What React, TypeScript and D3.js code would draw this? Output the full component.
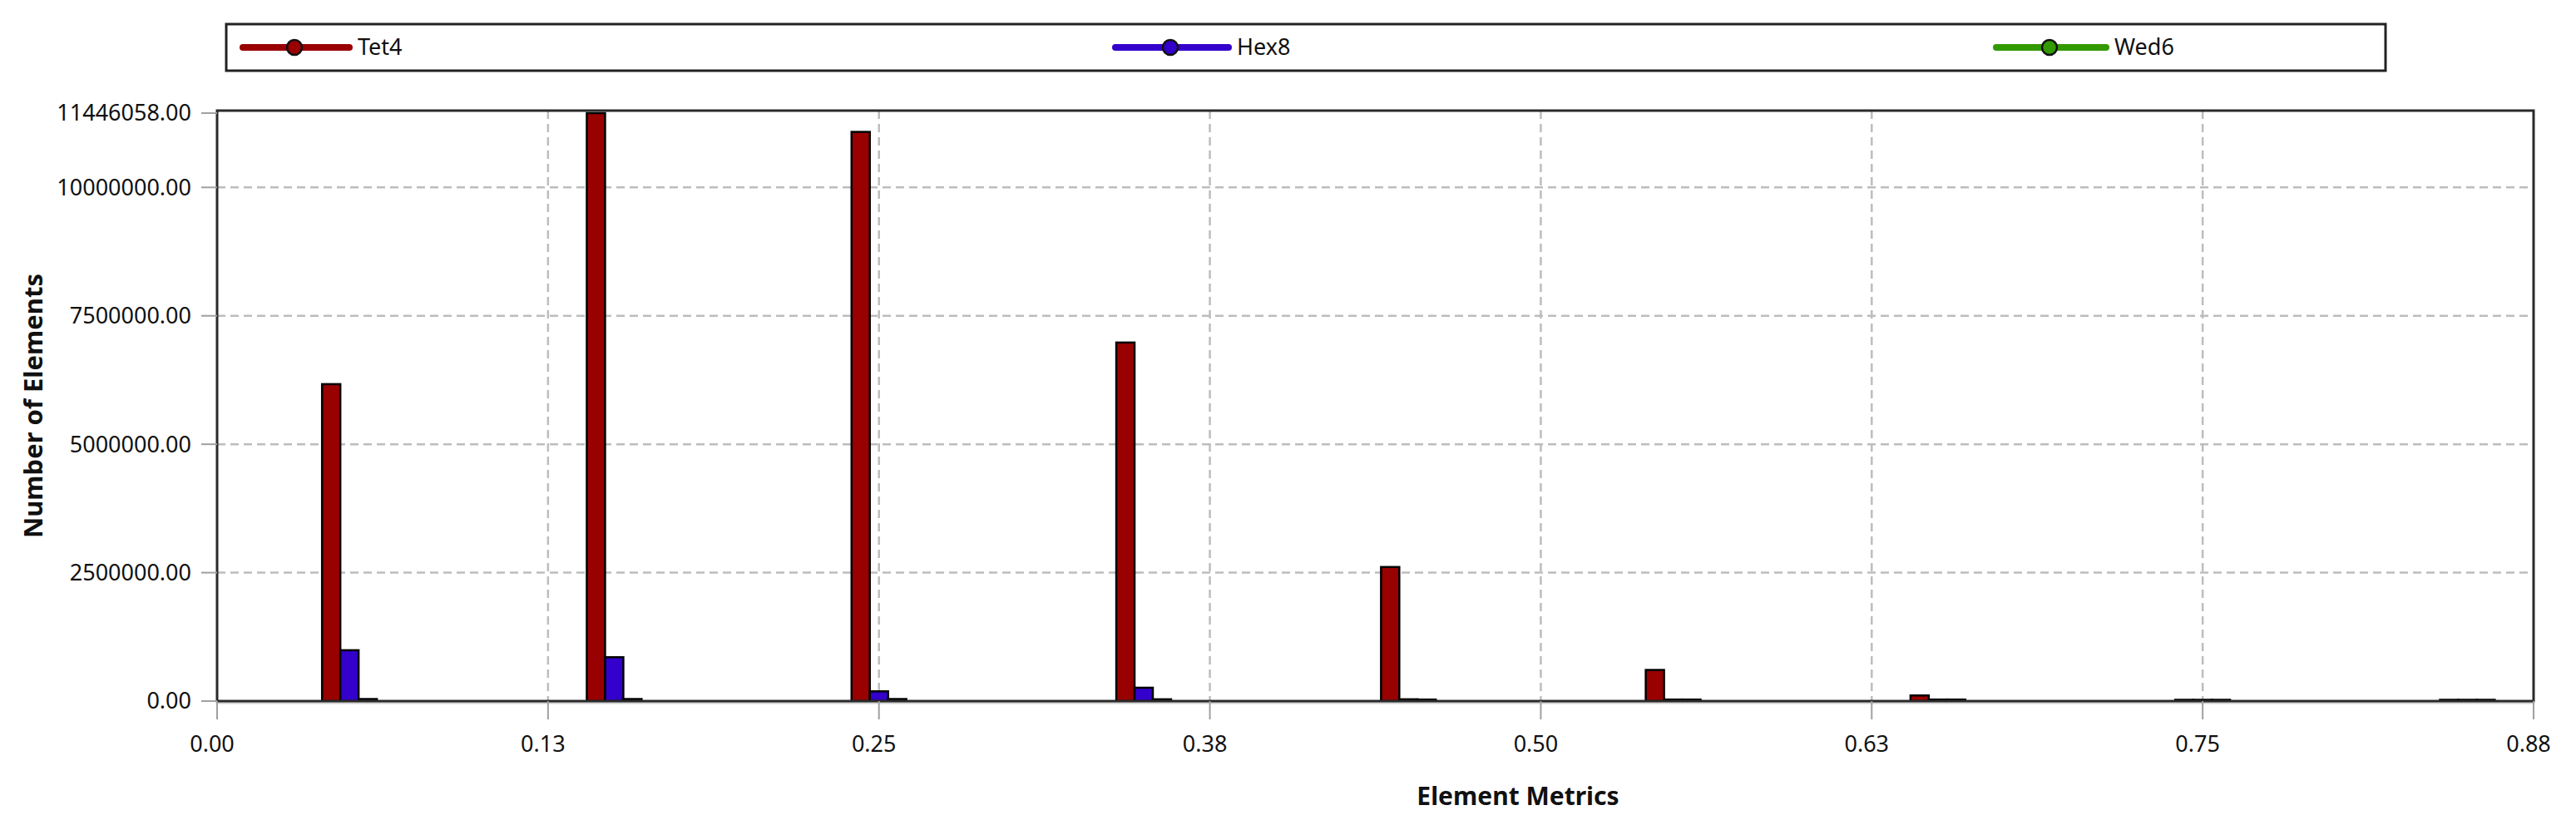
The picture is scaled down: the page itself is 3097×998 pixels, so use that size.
import React from "react";
import * as d3 from "d3";

const binCenters = [0.05, 0.15, 0.25, 0.35, 0.45, 0.55, 0.65, 0.75, 0.85];
const tet4 = [6170000, 11446058, 11080000, 6980000, 2610000, 606000, 110000, 25000, 25000];
const hex8 = [990000, 854000, 190000, 260000, 35000, 30000, 30000, 25000, 25000];
const wed6 = [40000, 40000, 40000, 35000, 30000, 30000, 30000, 25000, 25000];
const seriesNames = ["Tet4", "Hex8", "Wed6"];
const seriesColors = ["#990000", "#3300cc", "#339900"];
const xTicks = [0, 0.125, 0.25, 0.375, 0.5, 0.625, 0.75, 0.875];
const yTicks = [0, 2500000, 5000000, 7500000, 10000000, 11446058];
const yMax = 11446058;

const W = 3097, H = 998;
const L = 261, R = 3046, T = 133, B = 843;
const FONT = "'Noto Sans', 'Open Sans', sans-serif";

export default function App() {
  const x = d3.scaleLinear().domain([0, 0.875]).range([L, R]);
  const y = d3.scaleLinear().domain([0, yMax]).range([B, 136]);
  const bw = x(0.0069) - x(0);
  const series = [tet4, hex8, wed6];

  const legendItems = [
    { x0: 292, x1: 420, tx: 430 },
    { x0: 1341, x1: 1477, tx: 1487 },
    { x0: 2400, x1: 2532, tx: 2542 },
  ];

  return (
    <svg width={W} height={H} style={{ position: "absolute", left: 0, top: 0, background: "#fff" }}>
      {/* legend */}
      <rect x={272} y={29} width={2596} height={56} fill="#fff" stroke="#222" strokeWidth={3} />
      {legendItems.map((li, i) => (
        <g key={i}>
          <line x1={li.x0} x2={li.x1} y1={57} y2={57} stroke={seriesColors[i]} strokeWidth={8} strokeLinecap="round" />
          <circle cx={(li.x0 + li.x1) / 2 - 2} cy={57} r={9} fill={seriesColors[i]} stroke="#111" strokeWidth={2.5} />
          <text x={li.tx} y={57} dy="0.35em" fontFamily={FONT} fontSize={27} fill="#111">{seriesNames[i]}</text>
        </g>
      ))}

      {/* grid */}
      {yTicks.filter(v => v > 0 && v < yMax).map(v => (
        <line key={"gy" + v} x1={L} x2={R} y1={y(v)} y2={y(v)} stroke="#bdbdbd" strokeWidth={2.5} strokeDasharray="10,6" />
      ))}
      {xTicks.filter(v => v > 0 && v < 0.875).map(v => (
        <line key={"gx" + v} x1={x(v)} x2={x(v)} y1={T} y2={B} stroke="#bdbdbd" strokeWidth={2.5} strokeDasharray="10,6" />
      ))}

      {/* bars */}
      {series.map((vals, si) =>
        vals.map((v, bi) => {
          const cx = x(binCenters[bi]);
          const x0 = cx - bw * 1.5 + si * bw;
          return (
            <rect key={si + "-" + bi} x={x0} y={y(v)} width={bw} height={Math.max(0, B - y(v))}
              fill={seriesColors[si]} stroke="#000" strokeWidth={2.5} />
          );
        })
      )}

      {/* frame */}
      <line x1={L} x2={R} y1={B + 2} y2={B + 2} stroke="#d0d0d0" strokeWidth={3} />
      <rect x={L} y={T} width={R - L} height={B - T} fill="none" stroke="#2a2a2a" strokeWidth={3} />

      {/* y ticks */}
      {yTicks.map(v => (
        <g key={"yt" + v}>
          <line x1={L - 19} x2={L} y1={y(v)} y2={y(v)} stroke="#a0a0a0" strokeWidth={2} />
          <text x={230} y={y(v)} dy="0.35em" textAnchor="end" fontFamily={FONT} fontSize={27} fill="#111">
            {v.toFixed(2)}
          </text>
        </g>
      ))}
      {/* x ticks */}
      {xTicks.map(v => (
        <g key={"xt" + v}>
          <line x1={x(v)} x2={x(v)} y1={B} y2={B + 22} stroke="#a0a0a0" strokeWidth={2} />
          <text x={x(v) - 6} y={895} dy="0.35em" textAnchor="middle" fontFamily={FONT} fontSize={27} fill="#111">
            {v.toFixed(2)}
          </text>
        </g>
      ))}

      {/* axis titles */}
      <text x={1825} y={957} dy="0.35em" textAnchor="middle" fontFamily={FONT} fontWeight="bold" fontSize={30} fill="#111">
        Element Metrics
      </text>
      <text transform={`translate(40,${(T + B) / 2}) rotate(-90)`} dy="0.35em" textAnchor="middle" fontFamily={FONT} fontWeight="bold" fontSize={31} fill="#111">
        Number of Elements
      </text>
    </svg>
  );
}
